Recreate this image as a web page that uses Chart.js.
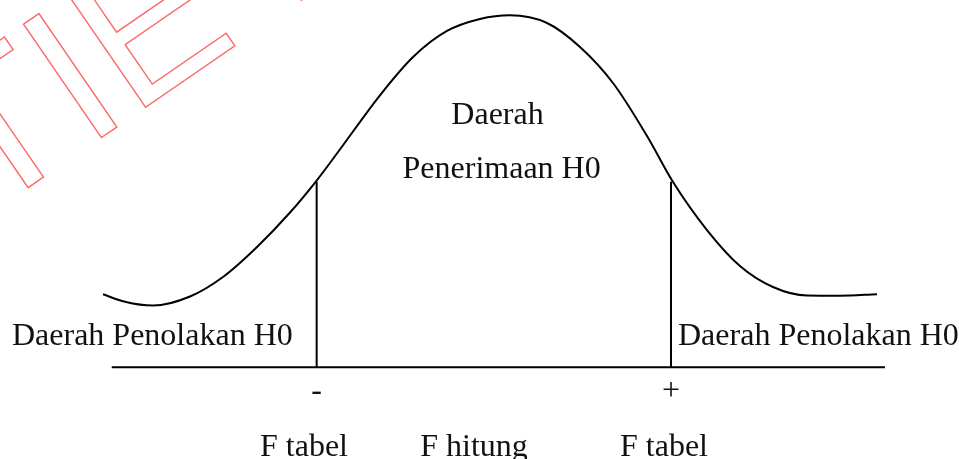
<!DOCTYPE html>
<html>
<head>
<meta charset="utf-8">
<script src="https://cdn.jsdelivr.net/npm/chart.js@4/dist/chart.umd.min.js"></script>
<style>
  html, body { margin: 0; padding: 0; background: #fff; }
  #wrap { width: 959px; height: 459px; position: relative; }
</style>
</head>
<body>
<div id="wrap"><canvas id="chart"></canvas></div>
<script>
// kurva distribusi (x: 0-100 lebar, y: -20..80 tinggi, garis dasar di y = 0)
const curveX = [10.74, 13.03, 15.95, 19.81, 23.25, 26.8, 30.24, 33.06, 35.25, 39.62, 43.07, 46.61, 50.05,
                53.18, 57.04, 60.48, 63.92, 67.47, 70.18, 73.72, 77.16, 80.6, 84.15, 87.59, 91.45];
const curveY = [15.88, 14.25, 13.42, 15.4, 19.65, 26.19, 33.7, 40.78, 46.88, 59.24, 67.58, 73.25, 75.86,
                76.67, 74.99, 69.76, 61.92, 50.37, 40.35, 29.89, 22.05, 17.47, 15.6, 15.56, 15.9];

const baseX = [11.65, 92.28];          // garis dasar
const critX = [33.02, 69.97];          // F tabel kiri dan kanan
const critTop = 40.41;                 // tinggi garis batas

const regionLabels = ["Daerah Penolakan H0", "Daerah", "Penerimaan H0", "Daerah Penolakan H0"];
const signLabels = ["-", "+"];
const axisLabels = ["F tabel", "F hitung", "F tabel"];
const axisLabelX = [31.7, 49.43, 69.24];

const black = "#000";

const textPlugin = {
  id: "teks",
  beforeDraw(chart) {
    // watermark merah bergaris tepi
    const ctx = chart.ctx;
    ctx.save();
    ctx.translate(86.2, 147.9);
    ctx.rotate(-0.602);
    ctx.font = "200px 'Liberation Sans', Arial, sans-serif";
    ctx.strokeStyle = "rgba(252, 98, 98, 0.95)";
    ctx.lineWidth = 1.4;
    ctx.lineJoin = "miter";
    ctx.strokeText("STIE PERBANAS SURABAYA", -ctx.measureText("ST").width, 0);
    ctx.restore();
  },
  afterDatasetsDraw(chart) {
    const ctx = chart.ctx;
    const xs = chart.scales.x, ys = chart.scales.y;
    const put = (text, x, y, align) => {
      ctx.textAlign = align;
      ctx.fillText(text, xs.getPixelForValue(x), ys.getPixelForValue(y));
    };
    ctx.save();
    ctx.fillStyle = "#111";
    ctx.textBaseline = "alphabetic";
    ctx.font = "32px 'Liberation Serif', 'Times New Roman', serif";
    put(regionLabels[0], 1.25, 4.84, "left");
    put(regionLabels[1], 51.88, 52.98, "center");
    put(regionLabels[2], 52.31, 41.15, "center");
    put(regionLabels[3], 70.7, 4.84, "left");
    put(signLabels[0], critX[0], -7.2, "center");
    put(signLabels[1], critX[1], -7.2, "center");
    axisLabels.forEach((t, i) => put(t, axisLabelX[i], -19.35, "center"));
    ctx.restore();
  }
};

const line = (pts, smooth) => ({
  data: pts,
  showLine: true,
  borderColor: black,
  borderWidth: 2,
  pointRadius: 0,
  cubicInterpolationMode: smooth ? "monotone" : "default",
  tension: 0,
  clip: false
});

new Chart(document.getElementById("chart"), {
  type: "scatter",
  data: {
    datasets: [
      line(curveX.map((x, i) => ({ x: x, y: curveY[i] })), true),
      line(baseX.map(x => ({ x: x, y: 0 })), false),
      line([{ x: critX[0], y: 0 }, { x: critX[0], y: critTop }], false),
      line([{ x: critX[1], y: 0 }, { x: critX[1], y: critTop }], false)
    ]
  },
  options: {
    responsive: true,
    maintainAspectRatio: false,
    animation: false,
    layout: { padding: 0 },
    scales: {
      x: { type: "linear", min: 0, max: 100, display: false },
      y: { type: "linear", min: -20, max: 80, display: false }
    },
    plugins: {
      legend: { display: false },
      tooltip: { enabled: false }
    }
  },
  plugins: [textPlugin]
});
</script>
</body>
</html>
